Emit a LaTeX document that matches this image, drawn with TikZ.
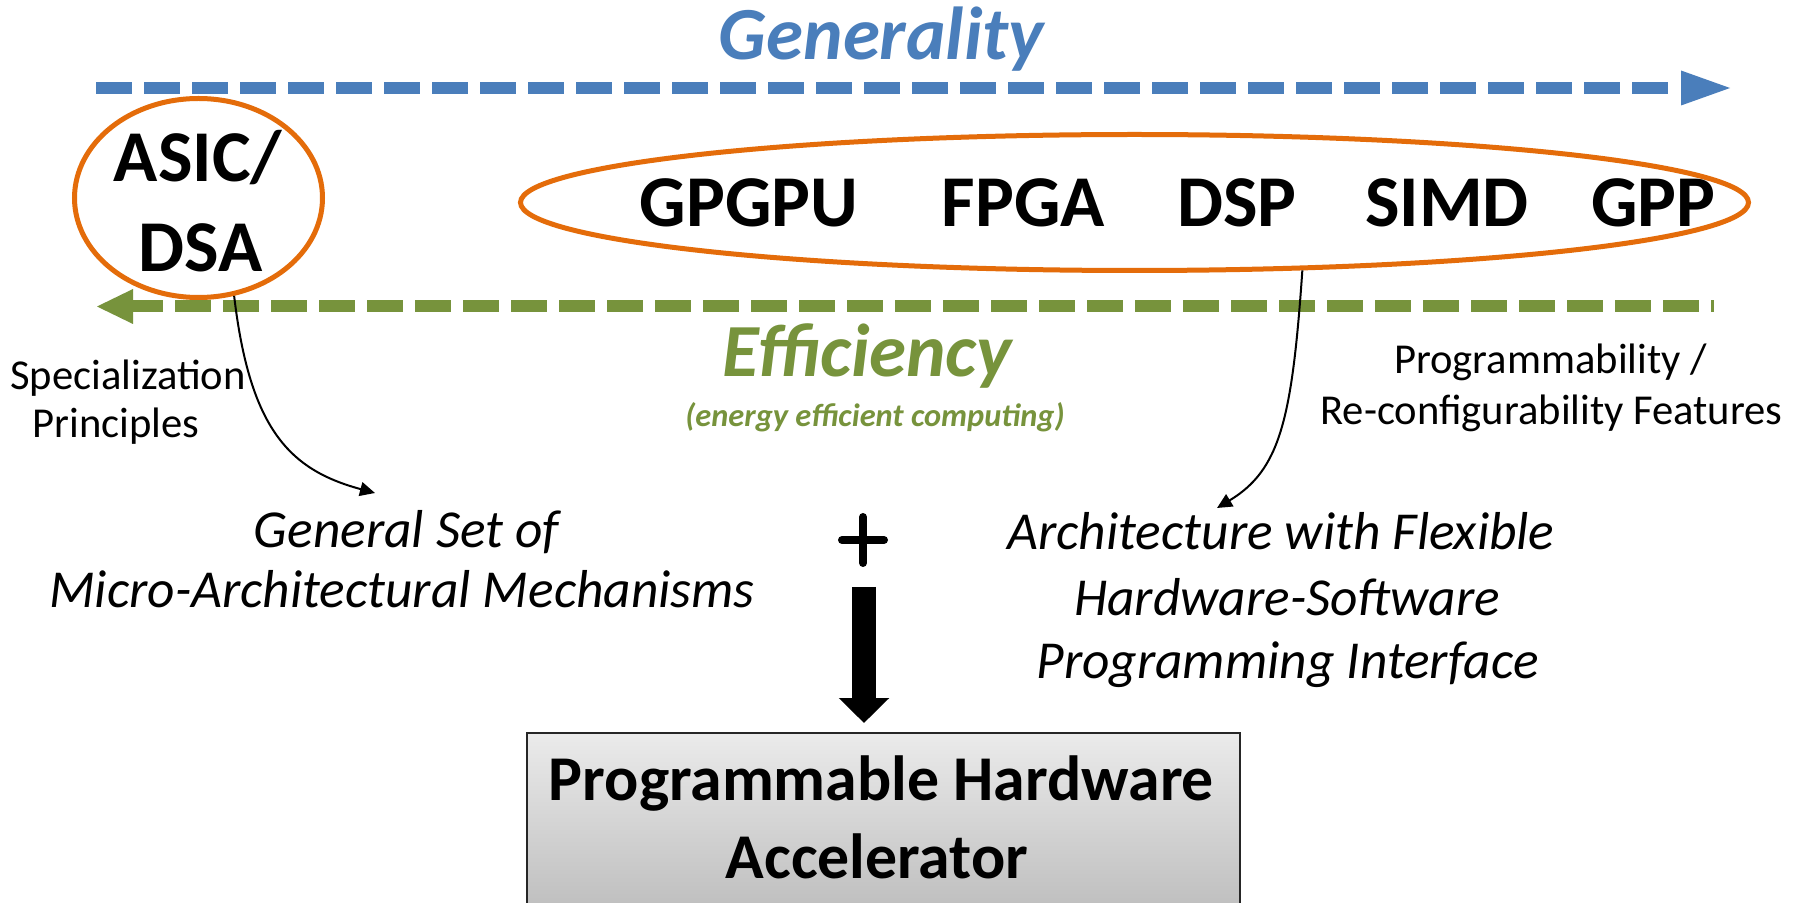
\documentclass[tikz,border=0pt]{standalone}
\usepackage{fontspec}
\setmainfont{Carlito}
\usetikzlibrary{shapes.geometric,arrows.meta}
\definecolor{gblue}{HTML}{4A7EBB}
\definecolor{ggreen}{HTML}{77933C}
\definecolor{gorange}{HTML}{E46C0A}
\begin{document}
\begin{tikzpicture}[x=0.5pt,y=-0.5pt,
  lbl/.style={anchor=base, inner sep=0pt, outer sep=0pt},
  hugebold/.style={lbl, font=\fontsize{36.5}{40}\selectfont\bfseries},
  titlefont/.style={lbl, font=\fontsize{37.5}{41}\selectfont\bfseries\itshape},
  smallnote/.style={lbl, font=\fontsize{21.3}{25}\selectfont},
  italnote/.style={lbl, font=\fontsize{26.7}{31}\selectfont\itshape},
  boxfont/.style={lbl, font=\fontsize{31.9}{36}\selectfont\bfseries},
  orangering/.style={ellipse, draw=gorange, line width=2.5pt, inner sep=0pt},
  axisline/.style={line width=6pt, dash pattern=on 18pt off 6pt},
  thinarrow/.style={line width=1pt, -{Triangle[length=7.5pt,width=7pt]}},
  bigarrow/.style={line width=12pt, -{Triangle[length=12.5pt,width=24.5pt]}},
  plusline/.style={line width=4pt, line cap=round},
  accbox/.style={draw=black!85, line width=1pt, top color=black!8, bottom color=black!26, inner sep=0pt}
]
\path[fill=white] (0,0) rectangle (1800,903);
\useasboundingbox (0,0) rectangle (1800,903);

% Generality axis
\node[titlefont, text=gblue] (generality) at (881.5,60) {Generality};
\draw[axisline, gblue] (96,88) -- (1672,88);
\fill[gblue] (1681,70.5) -- (1730,88) -- (1681,105.5) -- cycle;

% Efficiency axis
\draw[axisline, ggreen] (127,306.5) -- (1714,306.5);
\fill[ggreen] (133,289) -- (97,306.5) -- (133,324) -- cycle;
\node[titlefont, text=ggreen] (efficiency) at (867,377) {Efficiency};
\node[lbl, font=\fontsize{16.2}{19}\selectfont\bfseries\itshape, text=ggreen] (energy) at (875,427) {(energy efficient computing)};

% ASIC/DSA ellipse
\node[orangering, minimum width=124pt, minimum height=99.5pt] (asic) at (198.5,198) {};
\node[hugebold] (asicA) at (198,182) {ASIC/};
\node[hugebold] (asicB) at (200.5,272) {DSA};

% General-purpose ellipse
\node[orangering, minimum width=614pt, minimum height=68pt] (gp) at (1134.5,202.5) {};
\node[hugebold] (gpgpu) at (749,227) {GPGPU};
\node[hugebold] (fpga) at (1023.5,227) {FPGA};
\node[hugebold] (dsp) at (1237,227) {DSP};
\node[hugebold] (simd) at (1447,227) {SIMD};
\node[hugebold] (gpp) at (1653.5,227) {GPP};

% side notes
\node[smallnote] (specA) at (128,390) {Specialization};
\node[smallnote] (specB) at (116,438) {Principles};
\node[smallnote] (progA) at (1550.5,374) {Programmability /};
\node[smallnote] (progB) at (1551.5,425) {Re-configurability Features};

% middle texts
\node[italnote] (genA) at (406.5,547) {General Set of};
\node[italnote] (genB) at (402,608) {Micro-Architectural Mechanisms};
\node[italnote] (archA) at (1281,550) {Architecture with Flexible};
\node[italnote] (archB) at (1287,615) {Hardware-Software};
\node[italnote] (archC) at (1287.5,678) {Programming Interface};

% curved connectors
\coordinate (lt) at (375,493);
\coordinate (rt) at (1217,508);
\draw[thinarrow] (asic.-70) .. controls (250,430) and (290,470) .. (lt);
\draw[thinarrow] (gp.-22) .. controls (1292,420) and (1280,470) .. (rt);

% plus sign
\coordinate (plus) at (863,540);
\draw[plusline] ([xshift=-10.5pt]plus) -- ([xshift=10.5pt]plus);
\draw[plusline] ([yshift=11.5pt]plus) -- ([yshift=-11.5pt]plus);

% accelerator box
\node[accbox, minimum width=356.5pt, minimum height=92pt, anchor=north] (acc) at (883.5,732) {};
\node[boxfont] (accA) at (881.5,800) {Programmable Hardware};
\node[boxfont] (accB) at (877,878) {Accelerator};

% big arrow
\coordinate (arrtop) at (864,587);
\coordinate (arrtip) at (864,723);
\draw[bigarrow] (arrtop) -- (arrtip);
\end{tikzpicture}
\end{document}
